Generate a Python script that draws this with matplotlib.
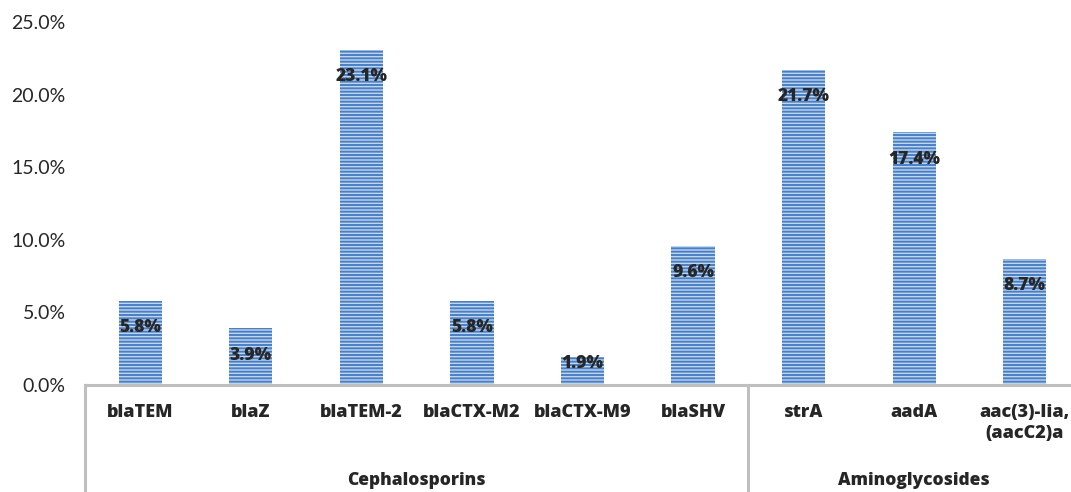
import matplotlib.pyplot as plt
from matplotlib.transforms import blended_transform_factory

plt.rcParams['font.family'] = ['Lato', 'DejaVu Sans']
plt.rcParams['hatch.linewidth'] = 1.4

genes = ['blaTEM', 'blaZ', 'blaTEM-2', 'blaCTX-M2', 'blaCTX-M9', 'blaSHV',
         'strA', 'aadA', 'aac(3)-Iia,\n(aacC2)a']
prevalence = [5.8, 3.9, 23.1, 5.8, 1.9, 9.6, 21.7, 17.4, 8.7]
groups = ['Cephalosporins', 'Aminoglycosides']
group_sizes = [6, 3]
yticks = [0, 5, 10, 15, 20, 25]

text_col = '#262626'
line_col = '#bfbfbf'
bold_font = ['Open Sans', 'DejaVu Sans']

fig = plt.figure(figsize=(10.71, 4.92), dpi=100)
ax = fig.add_axes([85 / 1071, 107 / 492, 995 / 1071, 363 / 492])

x = list(range(len(genes)))
ax.bar(x, prevalence, width=0.39, color='#c0d5f0', edgecolor='#4a7fc4',
       linewidth=0, hatch='-----')

# value labels just inside the top of each bar
for xi, v in zip(x, prevalence):
    ax.text(xi, max(v - 1.85, 1.45), f'{v:.1f}%', ha='center', va='center',
            fontsize=12.5, fontweight='heavy', family=bold_font, color=text_col)

ax.set_xlim(-0.5, 8.5)
ax.set_ylim(0, 25)
ax.set_yticks(yticks)
ax.set_yticklabels([f'{t:.1f}%' for t in yticks], fontsize=14, color=text_col)
ax.set_xticks(x)
ax.set_xticklabels(genes, fontsize=13, fontweight='heavy', family=bold_font,
                   color=text_col, linespacing=1.3)
ax.tick_params(axis='y', length=0, pad=14)
ax.tick_params(axis='x', length=0, pad=14)

for s in ['top', 'right', 'left']:
    ax.spines[s].set_visible(False)
ax.spines['bottom'].set_color(line_col)
ax.spines['bottom'].set_linewidth(2.2)

# group brackets and names under the gene labels
tr = blended_transform_factory(ax.transData, ax.transAxes)
start = -0.5
for name, n in zip(groups, group_sizes):
    ax.plot([start, start], [0, -0.3], color=line_col, lw=2.2,
            transform=tr, clip_on=False)
    ax.text(start + n / 2, -0.262, name, transform=tr, ha='center',
            va='center', fontsize=12.5, fontweight='heavy', family=bold_font,
            color=text_col)
    start += n

fig.savefig('out.png', dpi=100)
